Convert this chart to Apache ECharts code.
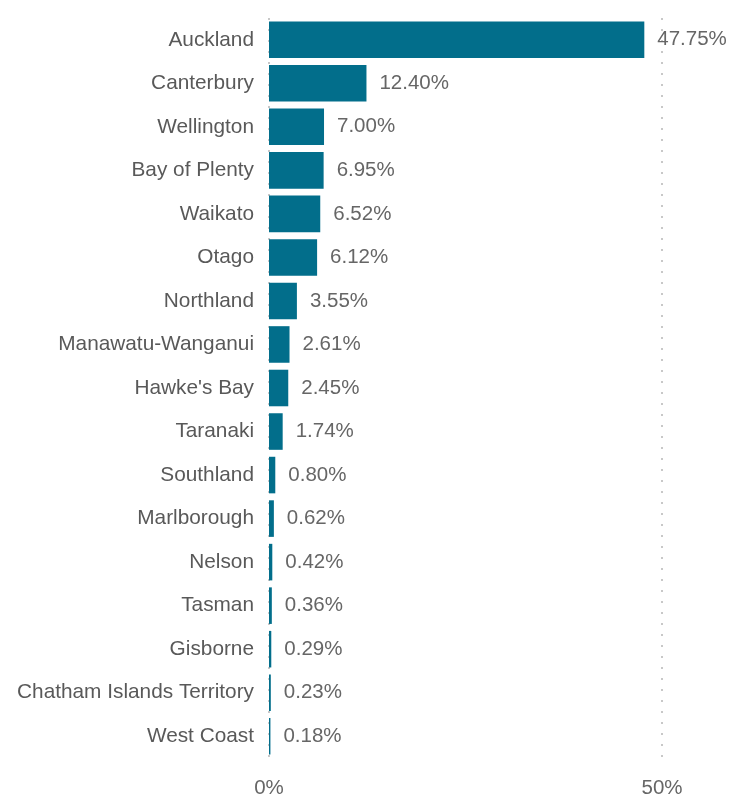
<!DOCTYPE html>
<html><head><meta charset="utf-8">
<script src="https://cdn.jsdelivr.net/npm/echarts@6/dist/echarts.min.js"></script>
<style>html,body{margin:0;padding:0;background:#fff}#c{width:731px;height:799px}</style>
</head><body><div id="c"></div>
<script>
const regions = ["Auckland","Canterbury","Wellington","Bay of Plenty","Waikato","Otago","Northland","Manawatu-Wanganui","Hawke's Bay","Taranaki","Southland","Marlborough","Nelson","Tasman","Gisborne","Chatham Islands Territory","West Coast"];
const shares = [47.75,12.40,7.00,6.95,6.52,6.12,3.55,2.61,2.45,1.74,0.80,0.62,0.42,0.36,0.29,0.23,0.18];
const xTicks = [0,50];

const chart = echarts.init(document.getElementById('c'));
chart.setOption({
  animation:false,
  grid:{left:269,right:69,top:18,bottom:37,containLabel:false},
  xAxis:{type:'value',min:0,max:50,interval:50,
    axisLine:{show:false},axisTick:{show:false},
    splitLine:{show:true,lineStyle:{type:[2,9],color:'#c8c8c8',width:2}},
    axisLabel:{margin:20,fontFamily:'Liberation Sans, Arial',fontSize:20.5,color:'#666',
      formatter:v=>xTicks.includes(v)?v+'%':''}},
  yAxis:{type:'category',data:regions,inverse:true,
    axisLine:{show:false},axisTick:{show:false},
    axisLabel:{margin:15,fontFamily:'Liberation Sans, Arial',fontSize:20.8,color:'#595959',padding:[5,0,0,0]}},
  series:[{type:'bar',data:shares,barCategoryGap:'16%',
    itemStyle:{color:'#026e8b'},
    label:{show:true,position:'right',distance:13,fontFamily:'Liberation Sans, Arial',fontSize:20.5,color:'#666',
      padding:[4,0,0,0],
      formatter:p=>p.value.toFixed(2)+'%'}}]
});
</script></body></html>
